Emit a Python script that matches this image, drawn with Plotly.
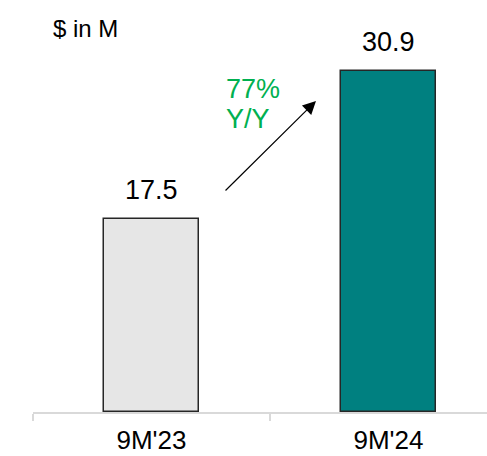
import plotly.graph_objects as go

categories = ["9M'23", "9M'24"]
values = [17.5, 30.9]
bar_colors = ["#e6e6e6", "#008080"]
growth_pct = "77%"
growth_label = "Y/Y"
unit_label = "$ in M"

FONT = "Liberation Sans, Arial, sans-serif"

W, H = 487, 456
ml, mr, mt, mb = 33, 0, 10, 44
px_per_cat = 237
px_per_unit = 11.03
x_range = [-0.5, -0.5 + (W - ml - mr) / px_per_cat]
y_range = [0, (H - mt - mb) / px_per_unit]

fig = go.Figure()
fig.add_trace(go.Bar(
    x=categories, y=values,
    width=0.405,
    marker=dict(color=bar_colors, line=dict(color="#262626", width=1.5)),
    hoverinfo="skip",
))

annotations = []
for c, v in zip(categories, values):
    annotations.append(dict(
        x=c, y=v, xref="x", yref="y", text=f"{v:.1f}", showarrow=False,
        yanchor="middle", yshift=29,
        font=dict(family=FONT, size=27, color="#000000"),
    ))

# growth arrow from first bar label area to second bar
annotations.append(dict(
    x=0.694, y=28.2, ax=0.306, ay=19.95, xref="x", yref="y",
    axref="x", ayref="y", text="", showarrow=True,
    arrowhead=2, arrowsize=2.2, arrowwidth=1.2, arrowcolor="#000000",
))
annotations.append(dict(
    x=0.306, y=(412 - 89) / px_per_unit, xref="x", yref="y", text=growth_pct,
    showarrow=False, xanchor="left", yanchor="middle",
    font=dict(family=FONT, size=27, color="#00b050"),
))
annotations.append(dict(
    x=0.306, y=(412 - 119) / px_per_unit, xref="x", yref="y", text=growth_label,
    showarrow=False, xanchor="left", yanchor="middle",
    font=dict(family=FONT, size=27, color="#00b050"),
))
annotations.append(dict(
    x=19 / W, y=1 - 21 / H, xref="paper", yref="paper", text=unit_label,
    showarrow=False, xanchor="left", yanchor="middle",
    font=dict(family=FONT, size=24, color="#000000"),
))

fig.update_layout(
    width=W, height=H,
    margin=dict(l=ml, r=mr, t=mt, b=mb, pad=0),
    plot_bgcolor="white", paper_bgcolor="white",
    showlegend=False,
    bargap=0,
    annotations=annotations,
    xaxis=dict(
        type="category", range=x_range, automargin=False,
        showline=True, linecolor="#d9d9d9", linewidth=1.5,
        ticks="outside", tickson="boundaries", ticklen=7, tickcolor="#d9d9d9", tickwidth=1.5,
        showgrid=False, zeroline=False, ticklabelstandoff=4,
        tickfont=dict(family=FONT, size=26, color="#000000"),
    ),
    yaxis=dict(range=y_range, visible=False, showgrid=False, zeroline=False, automargin=False),
)

fig.write_html("out.html")
